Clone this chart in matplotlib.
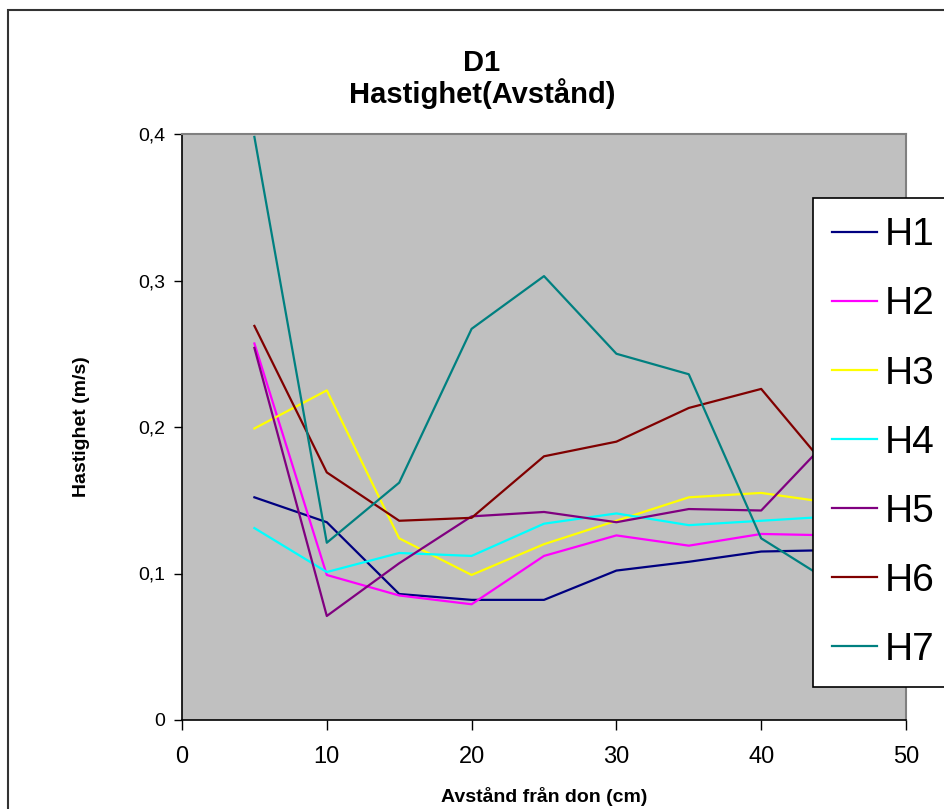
import matplotlib
matplotlib.use('Agg')
import matplotlib.pyplot as plt
from matplotlib.patches import Rectangle

plt.rcParams['font.family'] = ['Liberation Sans', 'DejaVu Sans']

# avstånd (cm)
x = [5, 10, 15, 20, 25, 30, 35, 40, 45]

H1 = [0.152, 0.135, 0.086, 0.082, 0.082, 0.102, 0.108, 0.115, 0.116]
H2 = [0.257, 0.099, 0.085, 0.079, 0.112, 0.126, 0.119, 0.127, 0.126]
H3 = [0.199, 0.225, 0.124, 0.099, 0.120, 0.136, 0.152, 0.155, 0.148]
H4 = [0.131, 0.101, 0.114, 0.112, 0.134, 0.141, 0.133, 0.136, 0.139]
H5 = [0.254, 0.071, 0.107, 0.139, 0.142, 0.135, 0.144, 0.143, 0.195]
H6 = [0.269, 0.169, 0.136, 0.138, 0.180, 0.190, 0.213, 0.226, 0.167]
H7 = [0.398, 0.121, 0.162, 0.267, 0.303, 0.250, 0.236, 0.124, 0.093]

series_names = ['H1', 'H2', 'H3', 'H4', 'H5', 'H6', 'H7']
colors = ['#000080', '#FF00FF', '#FFFF00', '#00FFFF', '#800080', '#800000', '#008080']

x_ticks = [0, 10, 20, 30, 40, 50]
y_ticks = [0, 0.1, 0.2, 0.3, 0.4]
y_tick_labels = ['0', '0,1', '0,2', '0,3', '0,4']

W, H = 944, 809
fig = plt.figure(figsize=(W / 100, H / 100), dpi=100)
fig.patch.set_facecolor('white')

# chart area border (continues past the right/bottom edge)
fig.patches.append(Rectangle((8 / W, -0.1), 2, 1 - 10 / H + 0.1, transform=fig.transFigure,
                             fill=False, edgecolor='#333333', lw=1.5))

ax = fig.add_axes([182 / W, 1 - 720 / H, 724 / W, 586 / H])
ax.set_facecolor('#C0C0C0')

for name, ys, c in zip(series_names, [H1, H2, H3, H4, H5, H6, H7], colors):
    ax.plot(x, ys, color=c, lw=1.6, label=name)

ax.set_xlim(0, 50)
ax.set_ylim(0, 0.4)
ax.set_xticks(x_ticks)
ax.set_yticks(y_ticks)
ax.set_yticklabels(y_tick_labels)
ax.tick_params(axis='x', direction='out', length=7, width=1, labelsize=17, pad=12)
ax.tick_params(axis='y', direction='out', length=6, width=1, labelsize=14, pad=6)

for side in ['top', 'right']:
    ax.spines[side].set_color('#808080')
    ax.spines[side].set_linewidth(1.5)
for side in ['left', 'bottom']:
    ax.spines[side].set_color('black')
    ax.spines[side].set_linewidth(1.2)

fig.text(482 / W, 1 - 79 / H, 'D1\nHastighet(Avstånd)', ha='center', va='center',
         fontsize=21, fontweight='bold', linespacing=1.05)
fig.text(544 / W, 1 - 797 / H, 'Avstånd från don (cm)', ha='center', va='center',
         fontsize=14, fontweight='bold')
fig.text(82 / W, 1 - 427 / H, 'Hastighet (m/s)', ha='center', va='center',
         fontsize=14, fontweight='bold', rotation=90)

leg = fig.legend(loc='upper left', bbox_to_anchor=(813 / W, 1 - 198 / H), borderaxespad=0,
                 fontsize=28, handlelength=1.15, handletextpad=0.2, labelspacing=0.85,
                 borderpad=0.5, fancybox=False, framealpha=1, edgecolor='black')
leg.get_frame().set_linewidth(1.2)

fig.savefig('out.png', dpi=100)
